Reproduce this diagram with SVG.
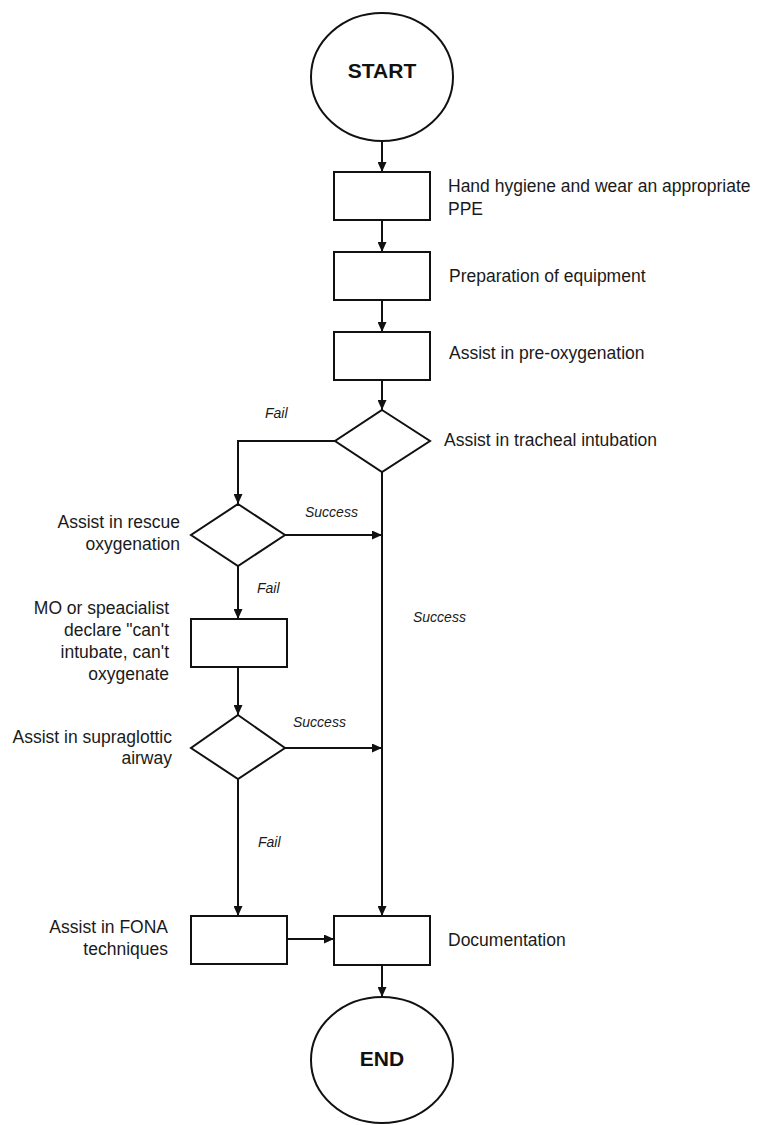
<svg xmlns="http://www.w3.org/2000/svg" width="758" height="1125" viewBox="0 0 758 1125">
<style>
.shape{fill:#fff;stroke:#111;stroke-width:2}
.conn{fill:none;stroke:#111;stroke-width:2}
.t{font-family:"Liberation Sans",Arial,sans-serif;font-size:17.5px;fill:#1a1a1a}
.r{text-anchor:end}
.lbl{font-family:"Liberation Sans",Arial,sans-serif;font-size:14px;font-style:italic;fill:#1a1a1a}
.term{font-family:"Liberation Sans",Arial,sans-serif;font-size:21px;font-weight:bold;fill:#111;text-anchor:middle}
</style>
<defs>
<marker id="arr" markerUnits="userSpaceOnUse" markerWidth="10" markerHeight="9" refX="10" refY="4.5" orient="auto">
<path d="M0,0 L10,4.5 L0,9 z" fill="#111"/>
</marker>
</defs>
<rect width="758" height="1125" fill="#fff"/>
<g id="connectors">
<line class="conn" x1="382" y1="141" x2="382" y2="172" marker-end="url(#arr)"/>
<line class="conn" x1="382" y1="220" x2="382" y2="252" marker-end="url(#arr)"/>
<line class="conn" x1="382" y1="300" x2="382" y2="332" marker-end="url(#arr)"/>
<line class="conn" x1="382" y1="380" x2="382" y2="410" marker-end="url(#arr)"/>
<polyline class="conn" points="335,441 238,441 238,504" marker-end="url(#arr)"/>
<line class="conn" x1="382" y1="472" x2="382" y2="916" marker-end="url(#arr)"/>
<line class="conn" x1="285" y1="535" x2="382" y2="535" marker-end="url(#arr)"/>
<line class="conn" x1="238" y1="566" x2="238" y2="619" marker-end="url(#arr)"/>
<line class="conn" x1="238" y1="667" x2="238" y2="715" marker-end="url(#arr)"/>
<line class="conn" x1="285" y1="748" x2="382" y2="748" marker-end="url(#arr)"/>
<line class="conn" x1="238" y1="779" x2="238" y2="916" marker-end="url(#arr)"/>
<line class="conn" x1="287" y1="939" x2="334" y2="939" marker-end="url(#arr)"/>
<line class="conn" x1="382" y1="965" x2="382" y2="997" marker-end="url(#arr)"/>
<text class="lbl" x="265" y="418">Fail</text>
<text class="lbl" x="305" y="517">Success</text>
<text class="lbl" x="257" y="593">Fail</text>
<text class="lbl" x="413" y="622">Success</text>
<text class="lbl" x="293" y="727">Success</text>
<text class="lbl" x="258" y="847">Fail</text>
</g>
<g id="start">
<ellipse class="shape" cx="382" cy="77" rx="71" ry="64"/>
<text class="term" x="382" y="78">START</text>
</g>
<g id="hand-hygiene">
<rect class="shape" x="334" y="172" width="96" height="48"/>
<text class="t" x="448" y="192">Hand hygiene and wear an appropriate</text>
<text class="t" x="448" y="215">PPE</text>
</g>
<g id="preparation">
<rect class="shape" x="334" y="252" width="96" height="48"/>
<text class="t" x="449" y="282">Preparation of equipment</text>
</g>
<g id="pre-oxygenation">
<rect class="shape" x="334" y="332" width="96" height="48"/>
<text class="t" x="449" y="359">Assist in pre-oxygenation</text>
</g>
<g id="tracheal-intubation">
<polygon class="shape" points="382,410 430,441 382,472 335,441"/>
<text class="t" x="444" y="446">Assist in tracheal intubation</text>
</g>
<g id="rescue-oxygenation">
<polygon class="shape" points="238,504 285,535 238,566 191,535"/>
<text class="t r" x="180" y="528">Assist in rescue</text>
<text class="t r" x="180" y="550">oxygenation</text>
</g>
<g id="cico">
<rect class="shape" x="191" y="619" width="96" height="48"/>
<text class="t r" x="169" y="614">MO or speacialist</text>
<text class="t r" x="169" y="636">declare "can't</text>
<text class="t r" x="169" y="658">intubate, can't</text>
<text class="t r" x="169" y="680">oxygenate</text>
</g>
<g id="supraglottic">
<polygon class="shape" points="238,715 285,748 238,779 191,748"/>
<text class="t r" x="172" y="743">Assist in supraglottic</text>
<text class="t r" x="172" y="764">airway</text>
</g>
<g id="fona">
<rect class="shape" x="191" y="916" width="96" height="48"/>
<text class="t r" x="168" y="933">Assist in FONA</text>
<text class="t r" x="168" y="955">techniques</text>
</g>
<g id="documentation">
<rect class="shape" x="334" y="916" width="96" height="49"/>
<text class="t" x="448" y="946">Documentation</text>
</g>
<g id="end">
<ellipse class="shape" cx="382" cy="1060" rx="71" ry="63"/>
<text class="term" x="382" y="1066">END</text>
</g>
</svg>
